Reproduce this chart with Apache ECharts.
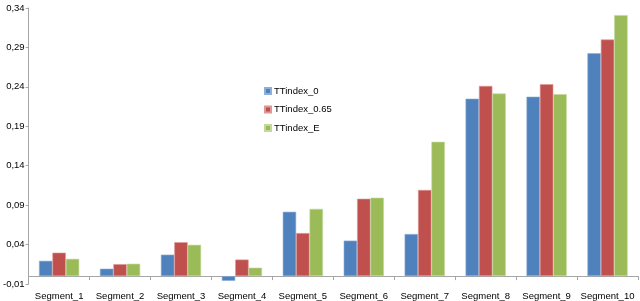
<!DOCTYPE html>
<html><head><meta charset="utf-8">
<script src="https://cdn.jsdelivr.net/npm/echarts@6/dist/echarts.min.js"></script>
<style>html,body{margin:0;padding:0;background:#fff}#c{width:640px;height:301px}</style>
</head><body><div id="c"></div>
<script>
var categories = ['Segment_1','Segment_2','Segment_3','Segment_4','Segment_5','Segment_6','Segment_7','Segment_8','Segment_9','Segment_10'];
var seriesNames = ['TTindex_0','TTindex_0.65','TTindex_E'];
var tt0   = [0.0194, 0.0094, 0.0272, -0.0060, 0.0816, 0.0450, 0.0534, 0.2250, 0.2275, 0.2826];
var tt065 = [0.0297, 0.0152, 0.0430, 0.0210, 0.0546, 0.0981, 0.1093, 0.2412, 0.2433, 0.3000];
var ttE   = [0.0219, 0.0157, 0.0397, 0.0107, 0.0853, 0.0994, 0.1703, 0.2316, 0.2308, 0.3310];
var yMin = -0.01, yMax = 0.34, yStep = 0.05;
var colors = ['#4F81BD','#C0504D','#9BBB59'];
var borders = ['#8FAEDA','#DE9896','#C3D89A'];
var font = 'Liberation Sans';
var chart = echarts.init(document.getElementById('c'));
var data = [tt0, tt065, ttE];
chart.setOption({
  animation:false,
  backgroundColor:'#fff',
  grid:{left:28,right:2,top:8,bottom:10,containLabel:false},
  legend:{
    orient:'vertical', left:259, top:81, itemWidth:6, itemHeight:6, itemGap:8.5,
    icon:'rect', textStyle:{fontFamily:font,fontSize:9.5,color:'#000',padding:[0,0,0,-2]},
    data:seriesNames
  },
  xAxis:{
    type:'category', data:categories,
    axisLine:{onZero:true,lineStyle:{color:'#A6A6A6',width:1}},
    axisTick:{show:true,length:4,lineStyle:{color:'#A6A6A6'}},
    axisLabel:{fontFamily:font,fontSize:9.5,color:'#000',margin:7,interval:0}
  },
  yAxis:{
    type:'value', min:yMin, max:yMax, interval:yStep,
    splitLine:{show:false},
    axisLine:{show:true,lineStyle:{color:'#A6A6A6'}},
    axisTick:{show:true,length:3,lineStyle:{color:'#A6A6A6'}},
    axisLabel:{fontFamily:font,fontSize:9.5,color:'#000',margin:4,
      formatter:function(v){return (Math.round(v*100)/100).toFixed(2).replace('.',',');}}
  },
  series: seriesNames.map(function(n,i){
    return {name:n,type:'bar',data:data[i],barGap:'0%',barCategoryGap:'34%',
      itemStyle:{color:colors[i],borderColor:borders[i],borderWidth:0.6}};
  })
});
</script></body></html>
